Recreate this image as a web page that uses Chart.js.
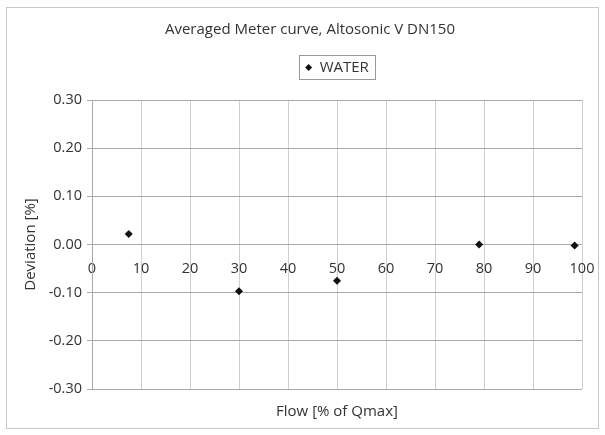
<!DOCTYPE html>
<html>
<head>
<meta charset="utf-8">
<script src="https://cdn.jsdelivr.net/npm/chart.js@4"></script>
<style>
  body { margin: 0; background: #fff; }
  #wrap { width: 605px; height: 435px; }
</style>
</head>
<body>
<div id="wrap"><canvas id="chart" width="605" height="435"></canvas></div>
<script>
const flow = [7.5, 30, 50, 79, 98.5];
const deviation = [0.022, -0.097, -0.075, 0.0, -0.002];
const yTicks = [-0.3, -0.2, -0.1, 0, 0.1, 0.2, 0.3];

const FONT = '"Open Sans", "Noto Sans", sans-serif';
const TXT = '#333';

// frame round the whole picture, legend box, legend/axis title centred on the plot
const framePlugin = {
    id: 'frame',
    beforeInit(chart) {
        const lg = chart.legend;
        if (!lg) return;
        const fit = lg.fit;
        lg.fit = function () {
            fit.call(this);
            this.height += 15;
        };
    },
    afterLayout(chart) {
        const area = chart.chartArea;
        const lg = chart.legend;
        if (lg) {
            const dx = (area.left + area.right) / 2 - (lg.left + lg.right) / 2;
            lg.left += dx;
            lg.right += dx;
            lg.legendHitBoxes.forEach(hb => { hb.left += dx; });
        }
        chart.boxes.forEach(b => {
            if (b.options && b.options.text === 'Flow [% of Qmax]') {
                b.left = area.left;
                b.right = area.right;
                b.width = area.right - area.left;
            }
            if (b === chart.titleBlock) {
                b.left = 16;
                b.right = 604;
                b.width = 588;
            }
        });
    },
    afterDraw(chart) {
        const ctx = chart.ctx;
        ctx.save();
        ctx.strokeStyle = '#c8c8c8';
        ctx.lineWidth = 1;
        ctx.strokeRect(6.5, 7.5, 592, 421);
        const lg = chart.legend;
        if (lg && lg.legendHitBoxes.length) {
            const hb = lg.legendHitBoxes[0];
            ctx.strokeStyle = '#999';
            ctx.strokeRect(Math.round(hb.left) - 5.5, Math.round(hb.top) - 4.5, Math.round(hb.width) + 12, Math.round(hb.height) + 9);
        }
        ctx.restore();
    }
};

new Chart(document.getElementById('chart'), {
    type: 'scatter',
    data: {
        datasets: [{
            label: 'WATER',
            data: flow.map((x, i) => ({ x: x, y: deviation[i] })),
            pointStyle: 'rectRot',
            pointRadius: 4,
            pointHoverRadius: 4,
            backgroundColor: '#111',
            borderColor: '#111',
            borderWidth: 0
        }]
    },
    options: {
        responsive: false,
        animation: false,
        layout: { padding: { left: 10, right: 23, top: 0, bottom: 0 } },
        plugins: {
            title: {
                display: true,
                text: 'Averaged Meter curve, Altosonic V DN150',
                color: TXT,
                font: { family: FONT, size: 15, weight: 'normal' },
                padding: { top: 21, bottom: 4 }
            },
            legend: {
                display: true,
                labels: {
                    color: TXT,
                    font: { family: FONT, size: 15 },
                    usePointStyle: true,
                    pointStyleWidth: 7,
                    boxHeight: 5,
                    padding: 17
                }
            },
            subtitle: {
                display: true,
                position: 'bottom',
                text: 'Flow [% of Qmax]',
                color: TXT,
                font: { family: FONT, size: 15, weight: 'normal' },
                padding: { top: 14, bottom: 14 }
            },
            tooltip: { enabled: false }
        },
        scales: {
            x: {
                type: 'linear',
                position: { y: 0 },
                min: 0,
                max: 100,
                afterFit: s => { s.paddingRight = 4; s.paddingLeft = 4; },
                ticks: { stepSize: 10, color: TXT, font: { family: FONT, size: 14.5 }, padding: 16 },
                grid: { color: '#cfcfcf', drawTicks: false },
                border: { display: false }
            },
            y: {
                min: -0.3,
                max: 0.3,
                afterBuildTicks: s => { s.ticks = yTicks.map(v => ({ value: v })); },
                afterFit: s => { s.width = 82; },
                ticks: {
                    color: TXT,
                    font: { family: FONT, size: 14.5 },
                    padding: 5,
                    callback: v => v.toFixed(2)
                },
                grid: { color: '#a9a9a9', tickLength: 5 },
                border: { color: '#a9a9a9' },
                title: {
                    display: true,
                    text: 'Deviation [%]',
                    color: TXT,
                    font: { family: FONT, size: 15 },
                    padding: { top: 12, bottom: 0 }
                }
            }
        }
    },
    plugins: [framePlugin]
});
</script>
</body>
</html>
